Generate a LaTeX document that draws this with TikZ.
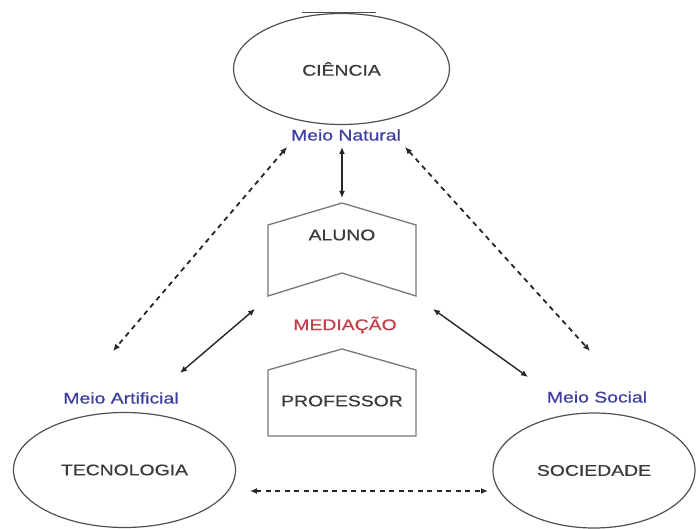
\documentclass[tikz,border=0pt]{standalone}
\usepackage{fontspec}
\setmainfont[FakeStretch=1.25,FakeBold=0.6]{Liberation Sans}
\usetikzlibrary{arrows.meta,shapes.geometric}

\definecolor{txtgray}{HTML}{3A3A3A}
\definecolor{edgegray}{HTML}{505050}
\definecolor{boxgray}{HTML}{777777}
\definecolor{meioblue}{HTML}{3D3D9E}
\definecolor{medred}{HTML}{C0404A}
\definecolor{arrowgray}{HTML}{262626}

\begin{document}
\begin{tikzpicture}[x=1pt,y=-1pt,
  lbl/.style={font=\fontsize{15.5}{18}\selectfont, text=txtgray, inner sep=0pt},
  meio/.style={lbl, text=meioblue},
  area/.style={ellipse, draw=edgegray, line width=1.2pt, inner sep=0pt,
               lbl},
  pentabox/.style={draw=boxgray, line width=1.3pt, line join=miter},
  link/.style={draw=arrowgray, line width=1.4pt, {Latex[length=7pt,width=6pt]}-{Latex[length=7pt,width=6pt]}},
  dlink/.style={link, line width=1.8pt, dash pattern=on 5pt off 4.5pt}
]
\useasboundingbox (0,0) rectangle (697,529);

% the three spheres
\node[area, minimum width=216pt, minimum height=111pt] (ciencia) at (341.5,69) {CIÊNCIA};
\node[area, minimum width=222pt, minimum height=115pt] (tecnologia) at (124.5,470) {TECNOLOGIA};
\node[area, minimum width=202pt, minimum height=115pt] (sociedade) at (594,470.5) {SOCIEDADE};
\draw[edgegray, line width=1.8pt] (302,12.5) -- (376,12.5);

% their environments
\node[meio] (natural) at (346,135) {Meio Natural};
\node[meio] (artificial) at (121,398) {Meio Artificial};
\node[meio] (social) at (597,397) {Meio Social};

% pupil and teacher
\draw[pentabox] (342,203) -- (416,225) -- (416,296) -- (342,273) -- (268,296) -- (268,225) -- cycle;
\node[lbl] (aluno) at (342,235) {ALUNO};
\draw[pentabox] (342,349) -- (416,370) -- (416,436) -- (268,436) -- (268,370) -- cycle;
\node[lbl] (professor) at (342,401) {PROFESSOR};
\node[lbl, text=medred] (mediacao) at (345,325) {MEDIAÇÃO};

% connector end points
\coordinate (nA) at (342,147);
\coordinate (nB) at (342,198);
\coordinate (lt) at (287,147);
\coordinate (lb) at (113,351);
\coordinate (rt) at (405,147);
\coordinate (rb) at (590,351);
\coordinate (ml) at (255,309);
\coordinate (tl) at (180,373);
\coordinate (mr) at (433,309);
\coordinate (sr) at (528,377);
\coordinate (bl) at (250,491);
\coordinate (br) at (488,491);

% solid links through the mediation
\draw[link] (nA) -- (nB);
\draw[link] (ml) -- (tl);
\draw[link] (mr) -- (sr);

% dashed links between the spheres
\draw[dlink] (lt) -- (lb);
\draw[dlink] (rt) -- (rb);
\draw[dlink] (bl) -- (br);
\end{tikzpicture}
\end{document}
